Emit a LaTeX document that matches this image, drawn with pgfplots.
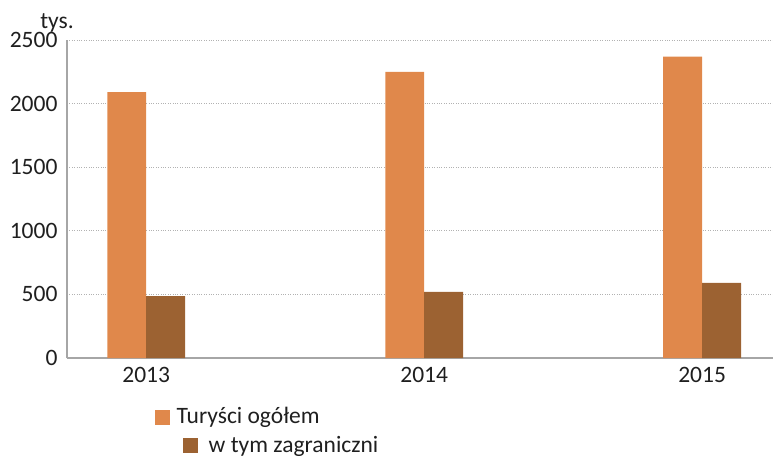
\documentclass[border=0pt]{standalone}
\usepackage{fontspec}
\setmainfont{Carlito}
\usepackage{pgfplots}
\pgfplotsset{compat=1.18}

\definecolor{ogolem}{HTML}{E0884B}
\definecolor{zagr}{HTML}{9C6232}
\definecolor{axisgray}{HTML}{A6A6A6}

\newcommand{\chartfont}{\fontsize{23.5pt}{27pt}\selectfont}

\begin{document}
\chartfont
\begin{tikzpicture}
\path[use as bounding box] (-67pt,-105pt) rectangle (706pt,358pt);
\begin{axis}[
    scale only axis,
    width  = 706pt,
    height = 318pt,
    ybar = 0pt,
    bar width = 0.14,
    xmin = -0.285, xmax = 2.255,
    ymin = 0, ymax = 2500,
    xtick = data,
    xticklabels = {2013, 2014, 2015},
    ytick = {0,500,...,2500},
    major tick length = 0pt,
    axis x line* = bottom,
    axis y line* = left,
    axis line style = {draw=axisgray, line width=1.2pt},
    ymajorgrids,
    grid style = {dotted, gray!60, line width=0.9pt},
    /pgf/number format/assume math mode = true,
    /pgf/number format/1000 sep = {},
    ticklabel style = {font=\chartfont, text=black!88},
    yticklabel style = {xshift=-1.5pt},
    xticklabel style = {yshift=-1pt},
    ylabel = {tys.},
    ylabel style = {rotate=-90, at={(rel axis cs:0,1)}, anchor=base,
                    xshift=-10pt, yshift=12pt, font=\chartfont, text=black!88},
    legend style = {draw=none, fill=none, at={(0.124,-0.148)}, anchor=north west,
                    inner sep=0pt, row sep=5pt,
                    font=\chartfont, text=black!88},
    legend cell align = left,
]
\addplot[fill=ogolem, draw=none,
    legend image code/.code={\path (0pt,0pt) (20pt,0pt);
        \fill[ogolem] (0pt,-7.5pt) rectangle (15pt,7.5pt);}]
    coordinates {(0,2090) (1,2250) (2,2370)};
\addlegendentry{Turyści ogółem}
\addplot[fill=zagr, draw=none,
    legend image code/.code={\path (0pt,0pt) (20pt,0pt);
        \fill[zagr, overlay] (28pt,-7.5pt) rectangle (43pt,7.5pt);}]
    coordinates {(0,487) (1,519) (2,590)};
\addlegendentry{\hspace{32pt}w tym zagraniczni}
\end{axis}
\end{tikzpicture}
\end{document}
